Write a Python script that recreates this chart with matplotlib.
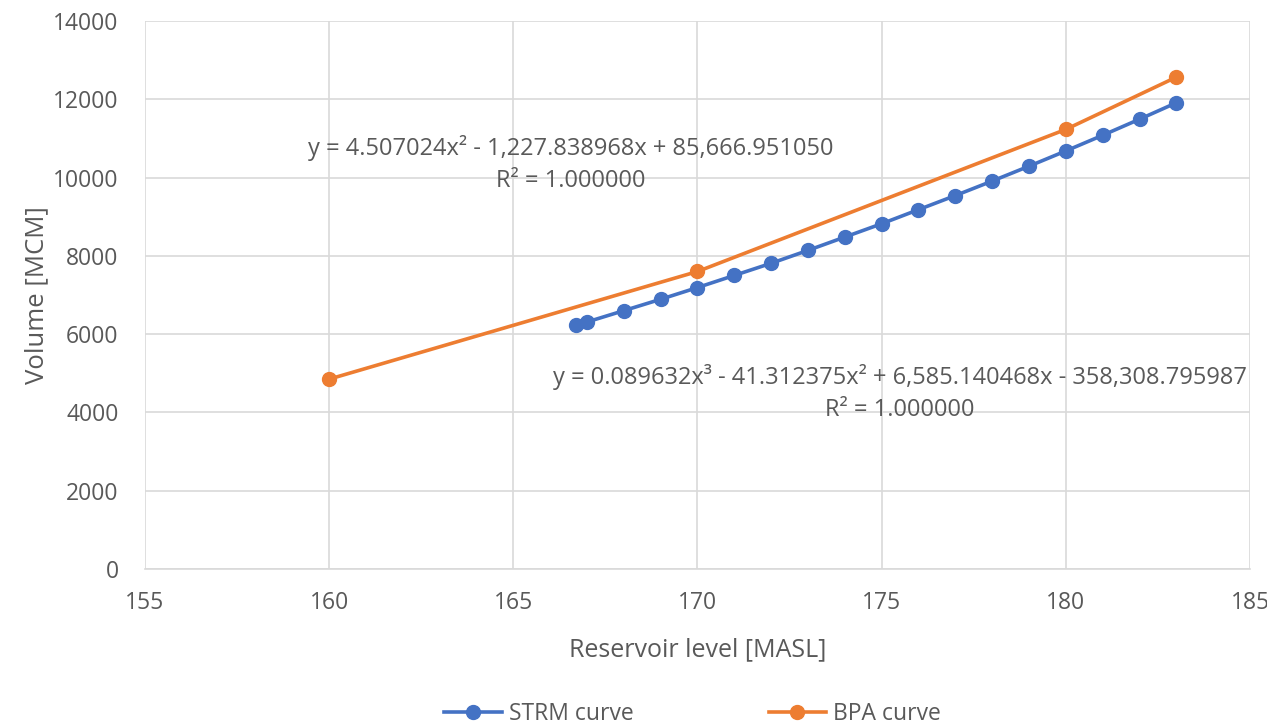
import matplotlib
matplotlib.use('Agg')
from matplotlib import pyplot as plt

plt.rcParams['font.family'] = ['Open Sans', 'DejaVu Sans']

# reservoir level [MASL] vs volume [MCM]
strm_level = [166.7, 167, 168, 169, 170, 171, 172, 173, 174, 175,
              176, 177, 178, 179, 180, 181, 182, 183]
strm_volume = [6230, 6310, 6600, 6890, 7190, 7500, 7810, 8140, 8480, 8820,
               9180, 9540, 9910, 10290, 10680, 11080, 11490, 11910]

bpa_level = [160, 170, 180, 183]
bpa_volume = [4850, 7600, 11230, 12565]

strm_fit = 'y = 4.507024x² - 1,227.838968x + 85,666.951050\nR² = 1.000000'
bpa_fit = 'y = 0.089632x³ - 41.312375x² + 6,585.140468x - 358,308.795987\nR² = 1.000000'

BLUE = '#4472C4'
ORANGE = '#ED7D31'
GRID = '#D9D9D9'
TEXT = '#595959'

fig = plt.figure(figsize=(12.67, 7.28), dpi=100)
ax = fig.add_axes([0.1144, 0.2184, 0.8722, 0.7528])

ax.plot(strm_level, strm_volume, color=BLUE, lw=2.6, marker='o', ms=10,
        label='STRM curve', zorder=3)
ax.plot(bpa_level, bpa_volume, color=ORANGE, lw=2.6, marker='o', ms=10,
        label='BPA curve', zorder=3)

# trendline labels as Excel placed them
ax.text(166.55, 10350, strm_fit, fontsize=17, color=TEXT, ha='center', va='center',
        linespacing=1.45, multialignment='center')
ax.text(175.5, 4500, bpa_fit, fontsize=17, color=TEXT, ha='center', va='center',
        linespacing=1.45, multialignment='center')

ax.set_xlim(155, 185)
ax.set_ylim(0, 14000)
ax.set_xticks(range(155, 186, 5))
ax.set_yticks(range(0, 14001, 2000))
ax.grid(True, color=GRID, lw=1.2)
ax.set_axisbelow(True)
for side in ('top', 'right', 'left'):
    ax.spines[side].set_visible(False)
ax.spines['bottom'].set_color(GRID)
ax.spines['bottom'].set_linewidth(1.2)
ax.tick_params(length=0, labelsize=16.5, colors=TEXT)
ax.tick_params(axis='x', pad=16)
ax.tick_params(axis='y', pad=19)

ax.set_xlabel('Reservoir level [MASL]', fontsize=18, color=TEXT, labelpad=16)
ax.set_ylabel('Volume [MCM]', fontsize=18.5, color=TEXT, labelpad=3)

fig.legend(loc='lower center', bbox_to_anchor=(0.5466, -0.025), ncol=2, frameon=False,
           fontsize=16.5, labelcolor=TEXT, columnspacing=5.9, handlelength=2.5,
           handletextpad=0.3)

fig.savefig('out.png', dpi=100)
